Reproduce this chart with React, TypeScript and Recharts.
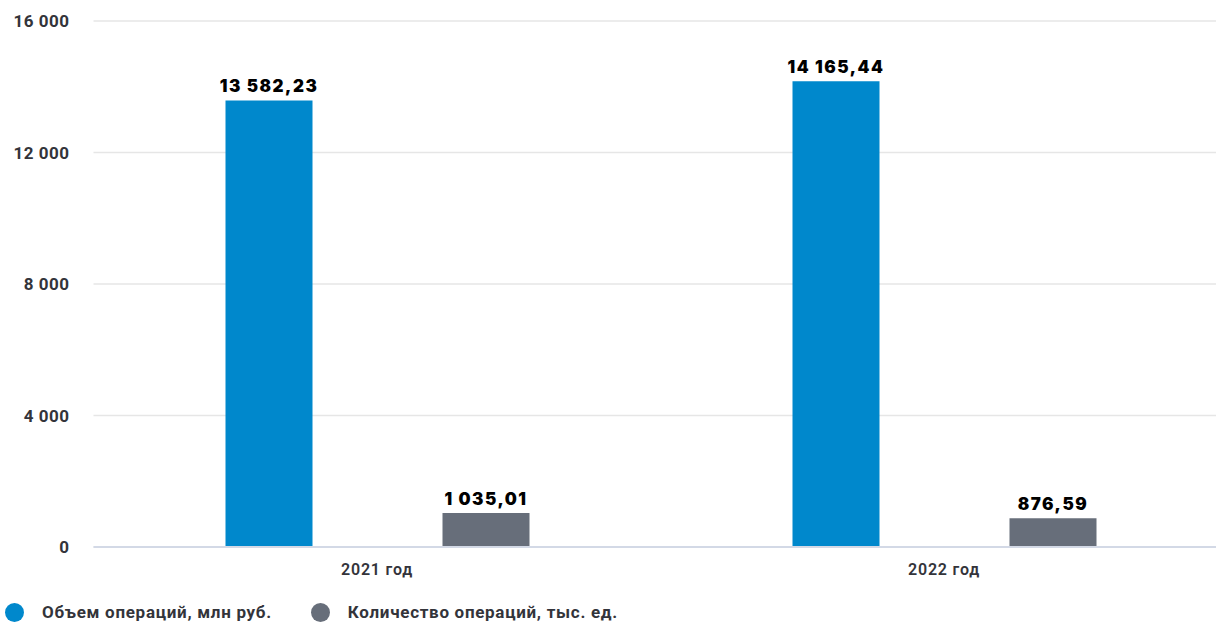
import { BarChart, Bar, XAxis, YAxis, CartesianGrid, LabelList, Legend } from 'recharts';

const years = ['2021 год', '2022 год'];
const volumeMln = [13582.23, 14165.44];
const countThous = [1035.01, 876.59];
const yTicks = [0, 4000, 8000, 12000, 16000];

const data = years.map((y, i) => ({ year: y, volume: volumeMln[i], count: countThous[i] }));

const BLUE = '#0088cc';
const GREY = '#676e7a';
const TEXT = '#33343a';

const fmtInt = (v: number) => String(v).replace(/\B(?=(\d{3})+(?!\d))/g, ' ');
const fmtDec = (v: number) => {
  const [i, d] = v.toFixed(2).split('.');
  return `${fmtInt(Number(i))},${d}`;
};

const legendItems = [
  { name: 'Объем операций, млн руб.', color: BLUE },
  { name: 'Количество операций, тыс. ед.', color: GREY },
];

function LegendRow() {
  return (
    <div style={{ display: 'flex', alignItems: 'center', fontFamily: 'Roboto, sans-serif', fontWeight: 700, fontSize: 17, letterSpacing: 0.7, color: TEXT }}>
      {legendItems.map((it, i) => (
        <div key={i} style={{ display: 'flex', alignItems: 'center', marginRight: i === 0 ? 39 : 0 }}>
          <span style={{ width: 19, height: 19, borderRadius: '50%', background: it.color, display: 'inline-block', marginRight: 18 }} />
          <span>{it.name}</span>
        </div>
      ))}
    </div>
  );
}

const labelStyle = { fill: '#000', fontSize: 17, fontWeight: 900, fontFamily: 'Inter, sans-serif', letterSpacing: 1.5 };

export default function App() {
  return (
    <div style={{ position: 'absolute', left: 0, top: 0, width: 1216, height: 623, overflow: 'hidden', background: '#fff' }}>
      <BarChart width={1240} height={623} data={data} barSize={87} barGap={130}
        margin={{ top: 21, right: 12.5, left: 0, bottom: 0 }}>
        <CartesianGrid stroke="#e6e6e6" strokeWidth={1.5} vertical={false} />
        <XAxis dataKey="year" height={52} tickLine={false} tickSize={0} tickMargin={17}
          axisLine={{ stroke: '#d3d9e6', strokeWidth: 2 }}
          tick={{ fill: TEXT, fontSize: 16, fontWeight: 600, letterSpacing: 0.8, fontFamily: 'Roboto, sans-serif' }} />
        <YAxis width={93.5} domain={[0, 16000]} ticks={yTicks} tickFormatter={fmtInt}
          axisLine={false} tickLine={false} tickSize={0} tickMargin={24}
          tick={{ fill: TEXT, fontSize: 17, fontWeight: 700, letterSpacing: 0.5, fontFamily: 'Roboto, sans-serif' }} />
        <Legend verticalAlign="bottom" align="left" content={() => <LegendRow />}
          wrapperStyle={{ left: 5, top: 602, height: 24 }} />
        <Bar dataKey="volume" name="Объем операций, млн руб." fill={BLUE} isAnimationActive={false}>
          <LabelList dataKey="volume" position="top" offset={8} formatter={(v: number) => fmtDec(v)} style={labelStyle} />
        </Bar>
        <Bar dataKey="count" name="Количество операций, тыс. ед." fill={GREY} isAnimationActive={false}>
          <LabelList dataKey="count" position="top" offset={8} formatter={(v: number) => fmtDec(v)} style={labelStyle} />
        </Bar>
      </BarChart>
    </div>
  );
}
